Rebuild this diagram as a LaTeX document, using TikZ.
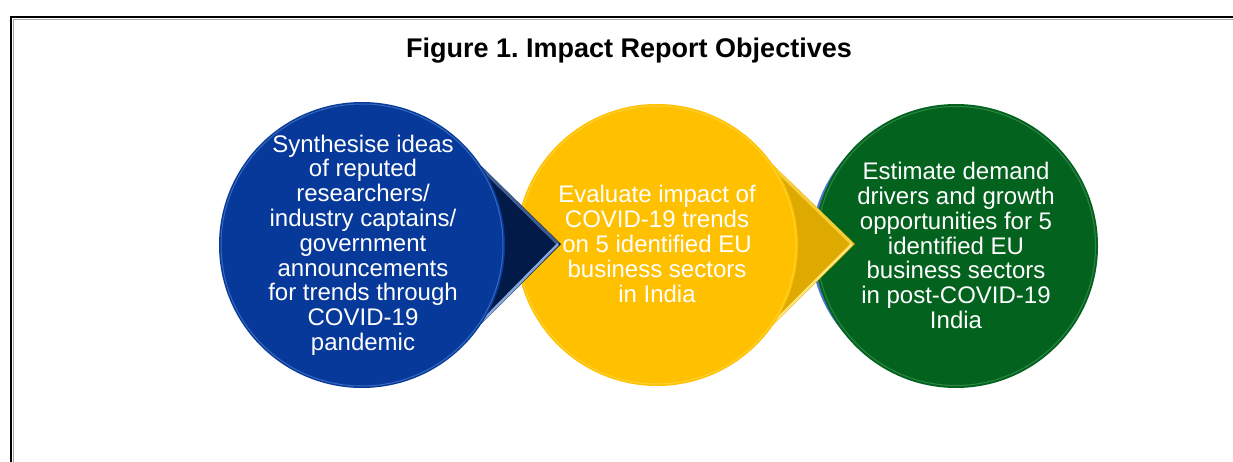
\documentclass[tikz,border=0pt]{standalone}
\usepackage{fontspec}
\setmainfont{Liberation Sans}
\usetikzlibrary{calc}
\definecolor{cblue}{HTML}{07399A}
\definecolor{cbluerim}{HTML}{7FB0F0}
\definecolor{cnavy}{HTML}{021A48}
\definecolor{cnavyhi}{HTML}{3E5C92}
\definecolor{cnavylo}{HTML}{86A8DC}
\definecolor{cyellow}{HTML}{FFC000}
\definecolor{cyellowrim}{HTML}{FFEE80}
\definecolor{cgold}{HTML}{DEA900}
\definecolor{cgoldhi}{HTML}{F5CE3A}
\definecolor{cgoldlo}{HTML}{FFE47A}
\definecolor{cgreen}{HTML}{04621F}
\definecolor{cgreenrim}{HTML}{8ED89A}
\definecolor{cbacking}{HTML}{4A78CC}
\tikzset{
  bodytext/.style={text=white, align=center, inner sep=0pt,
    font=\fontsize{24}{24.8}\selectfont},
  titletext/.style={text=black, inner sep=0pt,
    font=\fontsize{27}{32}\selectfont\bfseries},
  frameline/.style={black, line width=1.6pt},
  frameshadow/.style={black!35, line width=1.4pt},
  rim/.style={line width=1pt, opacity=0.4}
}
\frenchspacing
\begin{document}
\begin{tikzpicture}[x=1pt,y=-1pt]
\clip (0,0) rectangle (1233,462);
\fill[white] (0,0) rectangle (1233,462);
% frame
\draw[frameshadow] (13.4,470) -- (13.4,19.4) -- (1240,19.4);
\draw[frameline] (11,470) -- (11,17) -- (1240,17);
% title
\node[titletext] (title) at (629,51) {Figure 1. Impact Report Objectives};
% centres
\coordinate (cb) at (362,245);
\coordinate (cy) at (657,245);
\coordinate (cg) at (956,246);
% green circle with blue backing
\fill[cbacking] (942,246) circle (131);
\fill[cgreen] (cg) circle (142);
\draw[cgreenrim, rim, opacity=0.3] (cg) circle (139.5);
% yellow pointer
\coordinate (yt) at ($(cy)+(-34.6:141)$);
\coordinate (yb) at ($(cy)+(34.6:141)$);
\coordinate (ya) at (855,244);
\fill[cgold] (yt) -- (ya) -- (yb) -- cycle;
\draw[cgoldhi, line width=3pt] ($(yt)+(0,2)$) -- ($(ya)+(-3,0)$);
\draw[cgoldlo, line width=2.5pt] ($(yb)+(0,-2)$) -- ($(ya)+(-3,0)$);
% yellow circle
\fill[cyellow] (cy) circle (141);
\draw[cyellowrim, rim] (cy) circle (139);
% blue pointer
\coordinate (bt) at ($(cb)+(-33.5:143)$);
\coordinate (bb) at ($(cb)+(33.5:143)$);
\coordinate (ba) at (561,244);
\fill[cnavy] (bt) -- (ba) -- (bb) -- cycle;
\draw[cnavyhi, line width=3pt] ($(bt)+(0,2)$) -- ($(ba)+(-3,0)$);
\draw[cnavylo, line width=2.5pt] ($(bb)+(0,-2)$) -- ($(ba)+(-3,0)$);
% blue circle
\fill[cblue] (cb) circle (143);
\draw[cbluerim, rim] (cb) circle (141);
% texts
\node[bodytext] (tblue) at (363,245) {Synthesise ideas\\of reputed\\researchers/\\industry captains/\\government\\announcements\\for trends through\\COVID-19\\pandemic};
\node[bodytext] (tyellow) at (657,244) {Evaluate impact of\\COVID-19 trends\\on 5 identified EU\\business sectors\\in India};
\node[bodytext] (tgreen) at (956,245.5) {Estimate demand\\drivers and growth\\opportunities for 5\\identified EU\\business sectors\\in post-COVID-19\\India};
\end{tikzpicture}
\end{document}
